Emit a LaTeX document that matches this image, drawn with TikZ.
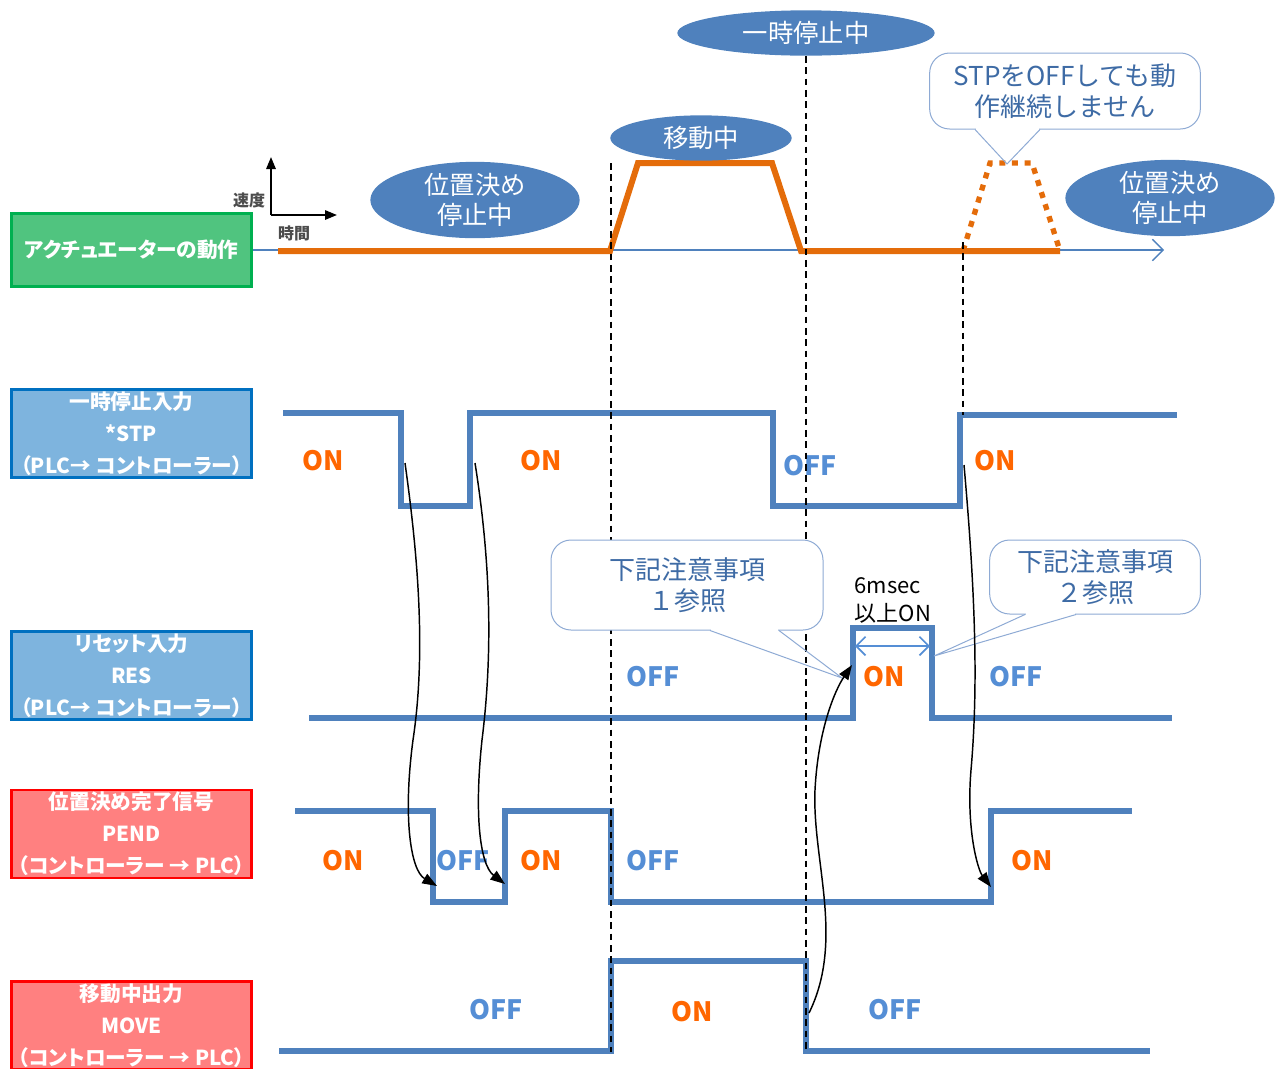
\documentclass[tikz,border=0pt]{standalone}
\usepackage{fontspec}
\setmainfont{Noto Sans CJK JP}
\newfontfamily\propfont{Noto Sans CJK JP}[RawFeature=+palt]
\usepackage{tikz}
\usetikzlibrary{arrows.meta, positioning, calc, shapes.geometric}

\definecolor{sigblue}{HTML}{4F81BD}
\definecolor{offblue}{HTML}{558ED5}
\definecolor{onorange}{HTML}{FF6600}
\definecolor{actorange}{HTML}{E46C0A}
\definecolor{boxgreen}{HTML}{50C47F}
\definecolor{linegreen}{HTML}{00B050}
\definecolor{boxblue}{HTML}{7EB4DE}
\definecolor{lineblue}{HTML}{0070C0}
\definecolor{boxred}{HTML}{FF8080}
\definecolor{linered}{HTML}{FF0000}
\definecolor{callline}{HTML}{8EAAD4}
\definecolor{calltext}{HTML}{3E6BA5}

\begin{document}
\begin{tikzpicture}[x=0.75pt, y=-0.75pt, >=Stealth,
    sig/.style={sigblue, line width=4.5pt},
    act/.style={actorange, line width=4.5pt},
    guide/.style={black, line width=1.3pt, dash pattern=on 5pt off 3.5pt},
    flow/.style={-{Triangle[length=11pt, width=8pt]}, black, line width=1.1pt},
    onlbl/.style={text=onorange, font=\bfseries\fontsize{20}{20}\selectfont},
    offlbl/.style={text=offblue, font=\bfseries\fontsize{20}{20}\selectfont},
    sigbox/.style={draw, line width=2.2pt, minimum width=180pt, minimum height=66pt, inner sep=0pt, text=white, align=center, font=\propfont\bfseries\fontsize{15.5}{24}\selectfont},
    lowered/.style={execute at begin node={\rule{0pt}{18pt}}},
    bubble/.style={ellipse, fill=sigblue, inner sep=0pt, text=white, align=center, font=\fontsize{19}{23}\selectfont},
    note/.style={draw=callline, line width=0.75pt, fill=white, rounded corners=15pt, text=calltext, align=center, inner sep=0pt, font=\fontsize{19.5}{23}\selectfont},
    axlbl/.style={text=black!70, font=\bfseries\fontsize{12}{12}\selectfont},
  ]
\useasboundingbox (0,0) rectangle (1275,1068);

\node[sigbox, fill=boxgreen, draw=linegreen, minimum height=55pt] (actbox) at (131.5,250) {アクチュエーターの動作};
\node[sigbox, lowered, fill=boxblue, draw=lineblue] (stpbox) at (131.5,433.5) {一時停止入力\\*STP\\（PLC→ コントローラー）};
\node[sigbox, lowered, fill=boxblue, draw=lineblue] (resbox) at (131.5,675.5) {リセット入力\\RES\\（PLC→ コントローラー）};
\node[sigbox, lowered, fill=boxred, draw=linered] (pendbox) at (131.5,834) {位置決め完了信号\\PEND\\（コントローラー → PLC）};
\node[sigbox, lowered, fill=boxred, draw=linered] (movebox) at (131.5,1025.5) {移動中出力\\MOVE\\（コントローラー → PLC）};

\coordinate (orig) at (271,215);
\coordinate (vtop) at (271,157);
\coordinate (hend) at (337,215);
\draw[black, line width=1.5pt, -{Triangle[length=9pt, width=7pt]}] (orig) -- (vtop);
\draw[black, line width=1.5pt, -{Triangle[length=9pt, width=7pt]}] (orig) -- (hend);
\node[axlbl] (speed) at (249,200) {速度};
\node[axlbl] (time) at (294,233) {時間};

\coordinate (tend) at (1164,250);
\draw[sigblue, line width=1pt, -{Straight Barb[length=8pt, width=16pt]}] (actbox.east) -- (tend);
\draw[act] (278,251) -- (610,251) -- (638,163) -- (772,163) -- (801,251) -- (1060,251);
\draw[act, line width=4pt, dash pattern=on 4.5pt off 5pt] (963,251) -- (990,163) -- (1032,163) -- (1060,251);

\node[bubble, minimum width=157pt, minimum height=56pt] (rest1) at (475,200) {位置決め\\停止中};
\node[bubble, minimum width=136pt, minimum height=34pt] (moving) at (701,138) {移動中};
\node[bubble, minimum width=193pt, minimum height=34pt] (pause) at (806,33) {一時停止中};
\node[bubble, minimum width=157pt, minimum height=56pt] (rest2) at (1170,198) {位置決め\\停止中};

\draw[sig] (283,413) -- (401,413) -- (401,506) -- (470,506) -- (470,413) -- (773,413) -- (773,506) -- (960,506) -- (960,415) -- (1177,415);
\draw[sig] (309,718) -- (853,718) -- (853,628) -- (932,628) -- (932,718) -- (1172,718);
\draw[sig] (295,811) -- (433,811) -- (433,902) -- (505,902) -- (505,811) -- (611,811) -- (611,902) -- (991,902) -- (991,811) -- (1132,811);
\draw[sig] (279,1051) -- (611,1051) -- (611,961) -- (806,961) -- (806,1051) -- (1150,1051);

\node[onlbl] (stpon1) at (323,461) {ON};
\node[onlbl] (stpon2) at (541,461) {ON};
\node[offlbl] (stpoff) at (810,466) {OFF};
\node[onlbl] (stpon3) at (995,461) {ON};
\node[offlbl] (resoff1) at (653,677) {OFF};
\node[onlbl] (reson) at (884,677) {ON};
\node[offlbl] (resoff2) at (1016,677) {OFF};
\node[onlbl] (pendon1) at (343,861) {ON};
\node[offlbl] (pendoff1) at (463,861) {OFF};
\node[onlbl] (pendon2) at (541,861) {ON};
\node[offlbl] (pendoff2) at (653,861) {OFF};
\node[onlbl] (pendon3) at (1032,861) {ON};
\node[offlbl] (moveoff1) at (496,1010) {OFF};
\node[onlbl] (moveon) at (692,1012) {ON};
\node[offlbl] (moveoff2) at (895,1010) {OFF};

\coordinate (g1top) at (611,163);
\coordinate (g1bot) at (611,1052);
\coordinate (g2bot) at (806,1052);
\coordinate (g3top) at (963,242);
\coordinate (g3bot) at (963,415);
\draw[guide] (g1top) -- (g1bot);
\draw[guide] (pause.south) -- (g2bot);
\draw[guide] (g3top) -- (g3bot);

\coordinate (wl) at (855,646);
\coordinate (wr) at (930,646);
\draw[offblue, line width=1.3pt, {Straight Barb[length=7pt, width=14pt]}-{Straight Barb[length=7pt, width=14pt]}] (wl) -- (wr);
\node[align=left, anchor=north west, font=\fontsize{16.5}{21}\selectfont] (width) at (850,573) {6msec\\以上ON};

\node[note, minimum width=204pt, minimum height=67.5pt] (note1) at (687,585) {下記注意事項\\１参照};
\node[note, minimum width=158pt, minimum height=55.5pt] (note2) at (1095,577) {下記注意事項\\２参照};
\node[note, minimum width=203pt, minimum height=57pt] (note3) at (1065,91) {STPをOFFしても動\\作継続しません};

\coordinate (n1tip) at (842,678);
\fill[white] ($(note1.south)+(24,-1.5)$) rectangle ($(note1.south)+(91,1.5)$);
\draw[callline, line width=0.75pt] ($(note1.south)+(23,0)$) -- (n1tip) -- ($(note1.south)+(92,0)$);
\coordinate (n2tip) at (934,656);
\fill[white] ($(note2.south)+(-69,-1.5)$) rectangle ($(note2.south)+(-20,1.5)$);
\draw[callline, line width=0.75pt] ($(note2.south)+(-70,0)$) -- (n2tip) -- ($(note2.south)+(-19,0)$);
\coordinate (n3tip) at (1007,164);
\fill[white] ($(note3.south)+(-89,-1.5)$) rectangle ($(note3.south)+(-26,1.5)$);
\draw[callline, line width=0.75pt] ($(note3.south)+(-90,0)$) -- (n3tip) -- ($(note3.south)+(-25,0)$);

\coordinate (a1s) at (405,463);
\coordinate (a1e) at (437,886);
\coordinate (a2s) at (475,463);
\coordinate (a2e) at (505,884);
\coordinate (a3s) at (964,465);
\coordinate (a3e) at (991,887);
\coordinate (a4s) at (809,1013);
\coordinate (a4e) at (852,665);
\draw[flow] (a1s) .. controls (420,570) and (425,660) .. (413,740) .. controls (403,815) and (410,870) .. (a1e);
\draw[flow] (a2s) .. controls (492,570) and (492,660) .. (482,740) .. controls (474,815) and (480,865) .. (a2e);
\draw[flow] (a3s) .. controls (976,600) and (978,690) .. (971,770) .. controls (966,830) and (978,870) .. (a3e);
\draw[flow] (a4s) .. controls (845,940) and (812,860) .. (815,790) .. controls (818,730) and (835,690) .. (a4e);
\end{tikzpicture}
\end{document}
